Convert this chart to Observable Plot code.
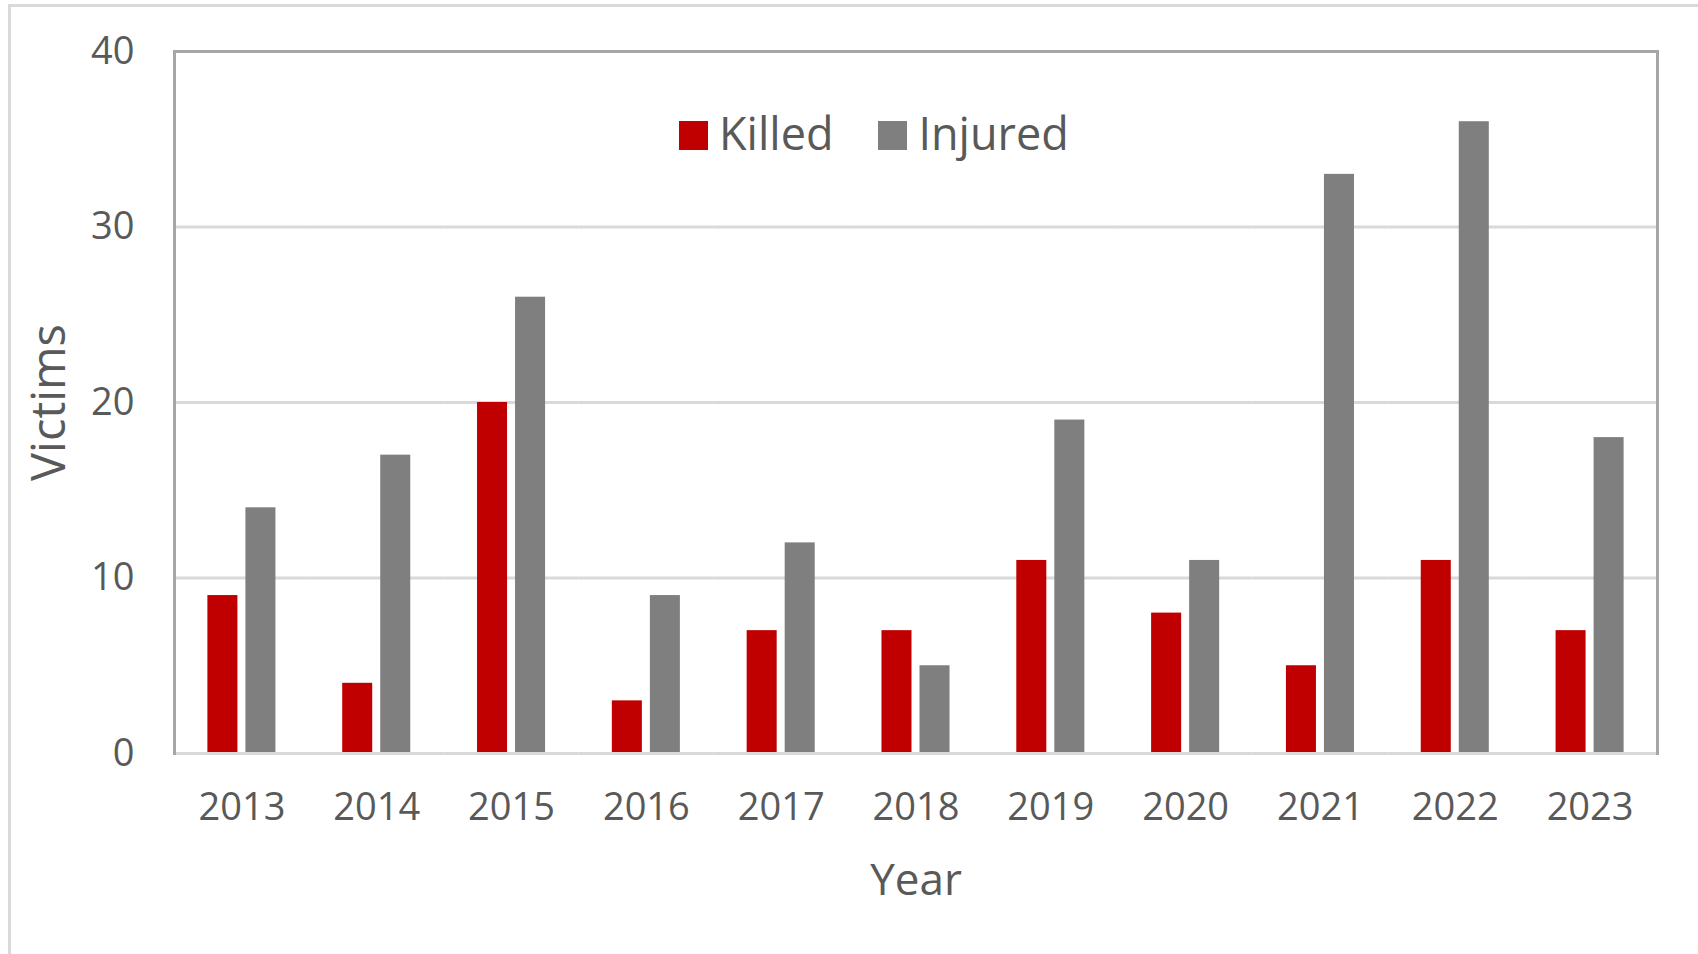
<!DOCTYPE html>
<html>
<head>
<meta charset="utf-8">
<script src="https://cdn.jsdelivr.net/npm/d3@7"></script>
<script src="https://cdn.jsdelivr.net/npm/@observablehq/plot@0.6"></script>
<style>
  html, body { margin: 0; padding: 0; background: #fff; }
  #wrap { position: relative; width: 1698px; height: 954px; overflow: hidden; font-family: "Open Sans", sans-serif; }
  #border { position: absolute; left: 8px; top: 4px; width: 2000px; height: 2000px;
            border-left: 3px solid #d9d9d9; border-top: 3px solid #d9d9d9; box-sizing: border-box; }
  #chart { position: absolute; left: 0; top: 0; }
  #legend { position: absolute; left: 679px; top: 121px; display: flex; align-items: center;
            font-size: 45px; color: #595959; line-height: 29px; }
  #legend .item { display: flex; align-items: center; }
  #legend .sw { width: 29px; height: 29px; margin-right: 11px; }
  #legend .lab { position: relative; top: -3px; }
</style>
</head>
<body>
<div id="wrap">
  <div id="border"></div>
  <div id="chart"></div>
  <div id="legend"></div>
</div>
<script>
const years = ["2013","2014","2015","2016","2017","2018","2019","2020","2021","2022","2023"];
const series = ["Killed", "Injured"];
const killed = [9, 4, 20, 3, 7, 7, 11, 8, 5, 11, 7];
const injured = [14, 17, 26, 9, 12, 5, 19, 11, 33, 36, 18];
const seriesColors = ["#c00000", "#7f7f7f"];
const yTicks = [0, 10, 20, 30, 40];
const gridTicks = [10, 20, 30];

const rows = years.flatMap((yr, i) => [
  {year: yr, series: "Killed", value: killed[i]},
  {year: yr, series: "Injured", value: injured[i]}
]);

const textColor = "#595959";

const chart = Plot.plot({
  width: 1698,
  height: 954,
  marginLeft: 174,
  marginRight: 41,
  marginTop: 51,
  marginBottom: 201,
  style: {fontFamily: "Open Sans", fontSize: "38px", color: textColor, background: "transparent", overflow: "visible"},
  fx: {domain: years, padding: 0, round: false},
  x: {domain: series, paddingInner: 8 / 38, paddingOuter: 0.878, round: false, axis: null},
  y: {domain: [0, 40]},
  color: {domain: series, range: seriesColors},
  marks: [
    Plot.gridY(gridTicks, {stroke: "#d9d9d9", strokeOpacity: 1, strokeWidth: 3}),
    Plot.barY(rows, {fx: "year", x: "series", y: "value", fill: "series"}),
    Plot.ruleY([0], {stroke: "#d9d9d9", strokeWidth: 3}),
    Plot.frame({anchor: "top", stroke: "#a6a6a6", strokeWidth: 3}),
    Plot.frame({anchor: "left", facetAnchor: "left", stroke: "#a6a6a6", strokeWidth: 3}),
    Plot.frame({anchor: "right", facetAnchor: "right", stroke: "#a6a6a6", strokeWidth: 3}),
    Plot.axisY(yTicks, {tickSize: 0, tickPadding: 40, label: null, fill: textColor, fontSize: 38}),
    Plot.axisY([], {tickSize: 0, label: "Victims", labelArrow: "none", labelAnchor: "center", labelOffset: 143, fill: textColor, fontSize: 47}),
    Plot.axisFx({anchor: "bottom", tickSize: 0, tickPadding: 40, label: null, fill: textColor, fontSize: 38}),
    Plot.axisFx([], {anchor: "bottom", tickSize: 0, label: "Year", labelArrow: "none", labelAnchor: "center", labelOffset: 141, fill: textColor, fontSize: 44})
  ]
});
document.getElementById("chart").appendChild(chart);

const legend = d3.select("#legend");
series.forEach((s, i) => {
  const item = legend.append("div").attr("class", "item").style("margin-left", i ? "45px" : "0px");
  item.append("div").attr("class", "sw").style("background", seriesColors[i]);
  item.append("span").attr("class", "lab").text(s);
});
</script>
</body>
</html>
